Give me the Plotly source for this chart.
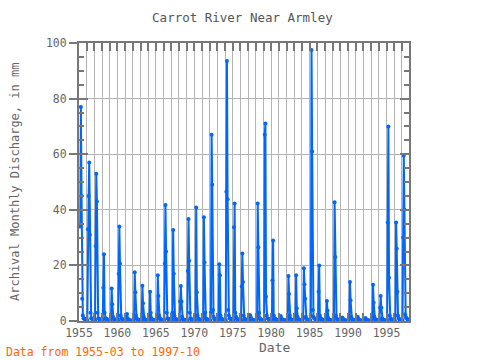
import pandas as pd
import plotly.graph_objects as go

# Monthly discharge (mm), 1955-03 .. 1997-10
q_1955_1959 = [
    34, 77, 45, 8, 2, 1, 0.8, 0.8, 0.5, 0.3,
    0.2, 0.2, 33, 45, 57, 31, 3, 1, 0.8, 0.8, 0.5, 0.3,
    0.2, 0.2, 27, 53, 43, 3, 1, 0.8, 0.6, 0.6, 0.4, 0.2,
    0.2, 0.2, 12, 24, 3, 1, 0.8, 0.6, 0.5, 0.5, 0.3, 0.2,
    0.2, 0.2, 1, 11.7, 6, 1.5, 0.8, 0.5, 0.5, 0.5, 0.3, 0.2,
]
q_1960_1969 = [
    0.2, 0.2, 17, 34, 20.7, 2, 1, 0.6, 0.5, 0.5, 0.3, 0.2,
    0.1, 0.1, 0.5, 2.5, 1, 0.5, 0.3, 0.2, 0.2, 0.2, 0.1, 0.1,
    0.1, 0.1, 1, 17.5, 10.3, 2, 1, 0.5, 0.5, 0.4, 0.3, 0.2,
    0.1, 0.1, 1, 12.7, 6.4, 1.5, 0.8, 0.5, 0.4, 0.4, 0.3, 0.2,
    0.1, 0.1, 1, 10.5, 3, 1, 0.6, 0.4, 0.4, 0.4, 0.3, 0.2,
    0.1, 0.1, 1, 16.5, 9, 2, 1, 0.6, 0.5, 0.5, 0.3, 0.2,
    0.2, 0.2, 20.7, 41.7, 25, 3, 1, 0.8, 0.6, 0.6, 0.4, 0.2,
    0.2, 0.2, 3, 32.7, 17, 2, 1, 0.6, 0.5, 0.5, 0.3, 0.2,
    0.1, 0.1, 7, 12.6, 7, 1.5, 0.8, 0.5, 0.4, 0.4, 0.3, 0.2,
    0.2, 0.2, 18, 36.7, 21.7, 3, 1, 0.6, 0.5, 0.5, 0.3, 0.2,
]
q_1970_1979 = [
    0.2, 0.2, 2, 40.8, 10.3, 2, 1, 0.6, 0.5, 0.5, 0.3, 0.2,
    0.2, 0.2, 2, 37.3, 21, 3, 1, 0.6, 0.5, 0.5, 0.3, 0.2,
    0.2, 0.2, 3, 67, 49, 4, 1.5, 0.8, 0.6, 0.6, 0.4, 0.2,
    0.1, 0.1, 1, 20.4, 16.5, 2, 1, 0.6, 0.5, 0.5, 0.3, 0.2,
    0.2, 0.2, 46.5, 93.5, 43.8, 4, 2, 1, 0.8, 0.8, 0.5, 0.3,
    0.2, 0.2, 33.7, 42.3, 3, 1.5, 1, 0.6, 0.5, 0.5, 0.3, 0.2,
    0.2, 0.2, 12.4, 24.3, 14, 2, 1, 0.5, 0.5, 0.5, 0.3, 0.2,
    0.1, 0.1, 1, 2.2, 1.5, 0.8, 0.5, 0.3, 0.3, 0.3, 0.2, 0.1,
    0.2, 0.2, 2, 42.3, 26.5, 3, 1, 0.6, 0.5, 0.5, 0.3, 0.2,
    0.2, 0.2, 67, 71, 8.7, 2, 1, 0.8, 0.7, 0.6, 0.4, 0.2,
]
q_1980_1989 = [
    0.2, 0.2, 14.7, 29, 2, 1, 0.8, 0.5, 0.5, 0.4, 0.3, 0.2,
    0.1, 0.1, 0.8, 1.8, 1, 0.6, 0.4, 0.3, 0.3, 0.3, 0.2, 0.1,
    0.1, 0.1, 1, 16.2, 9.7, 2, 1, 0.5, 0.4, 0.4, 0.3, 0.2,
    0.1, 0.1, 1, 16.5, 4.6, 1.5, 0.8, 0.5, 0.4, 0.4, 0.3, 0.2,
    0.1, 0.1, 1, 19, 13.2, 8, 1.5, 0.8, 0.5, 0.5, 0.3, 0.2,
    0.2, 0.2, 2, 97.5, 61, 4, 1.5, 1, 0.8, 0.7, 0.4, 0.2,
    0.1, 0.1, 10.5, 20, 2, 1, 0.8, 0.5, 0.5, 0.4, 0.3, 0.2,
    0.1, 0.1, 1, 7.2, 3.7, 1, 0.6, 0.4, 0.3, 0.3, 0.2, 0.1,
    0.1, 0.1, 1.5, 42.7, 23, 2, 1, 0.5, 0.5, 0.4, 0.3, 0.2,
    0.1, 0.1, 0.5, 1.3, 0.8, 0.5, 0.3, 0.2, 0.2, 0.2, 0.1, 0.1,
]
q_1990_1997 = [
    0.1, 0.1, 1, 14, 7.5, 1.5, 0.8, 0.5, 0.4, 0.4, 0.3, 0.2,
    0.1, 0.1, 0.6, 1.5, 0.8, 0.5, 0.3, 0.2, 0.2, 0.2, 0.1, 0.1,
    0.1, 0.1, 0.5, 1.1, 0.7, 0.4, 0.3, 0.2, 0.2, 0.2, 0.1, 0.1,
    0.1, 0.1, 1, 13, 6.6, 1.5, 0.8, 0.5, 0.4, 0.4, 0.3, 0.2,
    0.1, 0.1, 4.8, 9, 4.8, 1, 0.6, 0.4, 0.3, 0.3, 0.2, 0.1,
    0.2, 0.2, 35.4, 70, 15.6, 2, 1, 0.6, 0.5, 0.5, 0.3, 0.2,
    0.2, 0.2, 2, 35.4, 26, 10.5, 2, 1, 0.6, 0.5, 0.3, 0.2,
    0.2, 0.2, 30, 59.4, 40, 2.4, 1.5, 1, 0.8, 0.6,
]

start_month = "1955-03-01"
title_text = "Carrot River Near Armley"
y_title = "Archival Monthly Discharge, in mm"
x_title = "Date"
note_text = "Data from 1955-03 to 1997-10"

values = q_1955_1959 + q_1960_1969 + q_1970_1979 + q_1980_1989 + q_1990_1997
dates = pd.date_range(start_month, periods=len(values), freq="MS")

FONT = "DejaVu Sans Mono"
GRAY = "#666666"
AX = "#777777"
GRID = "#b4b4b4"
BLUE = "#0066ff"

fig = go.Figure()
fig.add_trace(go.Scatter(
    x=dates, y=values, mode="lines+markers",
    line=dict(color=BLUE, width=2),
    marker=dict(color=BLUE, size=4),
    showlegend=False,
))
# invisible helper so the overlaid tick axis is drawn
fig.add_trace(go.Scatter(
    x=dates[:1], y=values[:1], mode="markers", yaxis="y2",
    marker=dict(opacity=0), hoverinfo="skip", showlegend=False,
))

fig.update_layout(
    width=480, height=360,
    margin=dict(l=79, r=71, t=43, b=39),
    paper_bgcolor="white", plot_bgcolor="white",
    title=dict(text=title_text, x=0.505, xanchor="center", y=1 - 18 / 360, yanchor="middle",
               font=dict(family=FONT, size=12.5, color="#555555")),
    xaxis=dict(
        type="date", range=["1955-01-01", "1997-12-05"],
        tick0="1955-01-01", dtick="M60", tickformat="%Y",
        ticks="inside", ticklen=8, tickwidth=2, tickcolor=AX,
        showgrid=True, gridcolor=GRID, gridwidth=1,
        minor=dict(dtick="M12", tick0="1955-01-01", ticks="inside", ticklen=8, tickwidth=2,
                   tickcolor=AX, showgrid=True, gridcolor=GRID, gridwidth=1),
        showline=True, linecolor=AX, linewidth=2, mirror="allticks",
        tickfont=dict(family=FONT, size=11.5, color=GRAY),
        zeroline=False,
    ),
    yaxis=dict(
        range=[0, 100], dtick=20, ticks="outside", ticklen=8, tickwidth=2, tickcolor=AX,
        showgrid=True, gridcolor=GRID, gridwidth=1,
        showline=True, linecolor=AX, linewidth=2, mirror=True,
        tickfont=dict(family=FONT, size=11.5, color=GRAY),
        zeroline=False,
    ),
    yaxis2=dict(
        range=[0, 100], dtick=20, overlaying="y", side="left",
        ticks="inside", ticklen=9, tickwidth=2, tickcolor=AX,
        minor=dict(dtick=5, ticks="inside", ticklen=5, tickwidth=2, tickcolor=AX, showgrid=False),
        showgrid=False, showticklabels=False,
        showline=True, linecolor=AX, linewidth=2, mirror="allticks",
        zeroline=False,
    ),
    annotations=[
        dict(text=y_title, xref="paper", yref="paper", x=(15 - 79) / 330, y=0.5,
             textangle=-90, showarrow=False, xanchor="center", yanchor="middle",
             font=dict(family=FONT, size=12, color=GRAY)),
        dict(text=x_title, xref="paper", yref="paper", x=(274 - 79) / 330, y=-(347 - 321) / 278,
             showarrow=False, xanchor="center", yanchor="middle",
             font=dict(family=FONT, size=13, color=GRAY)),
        dict(text=note_text, xref="paper", yref="paper", x=(4 - 79) / 330, y=-(352 - 321) / 278,
             showarrow=False, xanchor="left", yanchor="middle",
             font=dict(family=FONT, size=11.5, color="#ff6600")),
    ],
)

fig.write_html("out.html")
